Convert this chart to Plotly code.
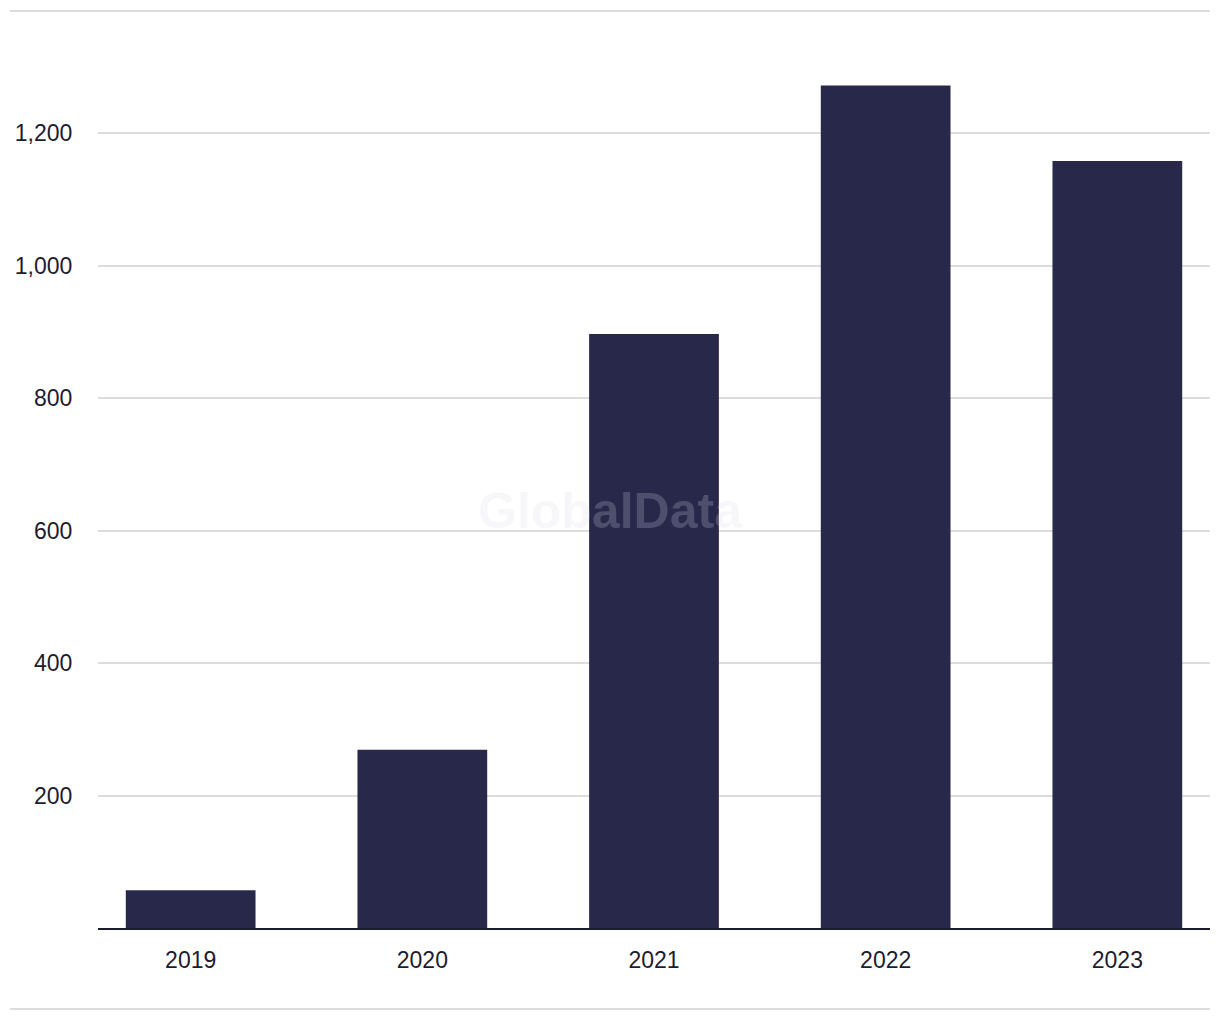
import plotly.graph_objects as go

years = ["2019", "2020", "2021", "2022", "2023"]
values = [57, 269, 897, 1272, 1158]
ytick_vals = [200, 400, 600, 800, 1000, 1200]
ytick_text = ["200", "400", "600", "800", "1,000", "1,200"]

OFF = 8  # page body margin
W, H = 1220 - OFF, 1020 - OFF
# target screen positions of plot area
PL, PR, PT, PB = 98, 1210, 67, 928
L = PL - OFF
T = PT - OFF
R = W - (PR - OFF)
B = H - (PB - OFF)
ph = PB - PT
pw = PR - PL

def py(p):
    return (PB - p) / ph

def px(p):
    return (p - PL) / pw

fig = go.Figure()
fig.add_trace(go.Bar(x=years, y=values, marker_color="#27284a", width=0.56,
                     marker_line_width=0))

FONT = "Liberation Sans, Arial, sans-serif"

fig.update_layout(
    width=W, height=H,
    margin=dict(l=L, r=R, t=T, b=B, autoexpand=False),
    plot_bgcolor="white", paper_bgcolor="white",
    showlegend=False,
    font=dict(family=FONT, size=23, color="#1c1c30"),
    xaxis=dict(type="category", range=[-0.4, 4.4], showgrid=False,
               showline=True, linecolor="#1c1c30", linewidth=2,
               ticks="outside", ticklen=10, tickcolor="rgba(0,0,0,0)",
               tickfont=dict(size=23), automargin=False),
    yaxis=dict(range=[0, 1300], tickvals=ytick_vals, ticktext=ytick_text,
               showgrid=True, gridcolor="#dcdcdc", gridwidth=1.5,
               zeroline=False, showline=False,
               ticks="outside", ticklen=20, tickcolor="rgba(0,0,0,0)",
               tickfont=dict(size=23), automargin=False),
    shapes=[
        dict(type="line", xref="paper", yref="paper",
             x0=px(10), x1=px(1210), y0=py(11), y1=py(11),
             line=dict(color="#dcdcdc", width=2)),
        dict(type="line", xref="paper", yref="paper",
             x0=px(10), x1=px(1210), y0=py(1009), y1=py(1009),
             line=dict(color="#dcdcdc", width=2)),
    ],
    annotations=[
        dict(text="<b>GlobalData</b>", xref="paper", yref="paper",
             x=px(610), y=py(511),
             showarrow=False, xanchor="center", yanchor="middle",
             font=dict(family=FONT, size=50,
                       color="rgba(220,220,230,0.22)")),
    ],
)

fig.write_html("out.html")
